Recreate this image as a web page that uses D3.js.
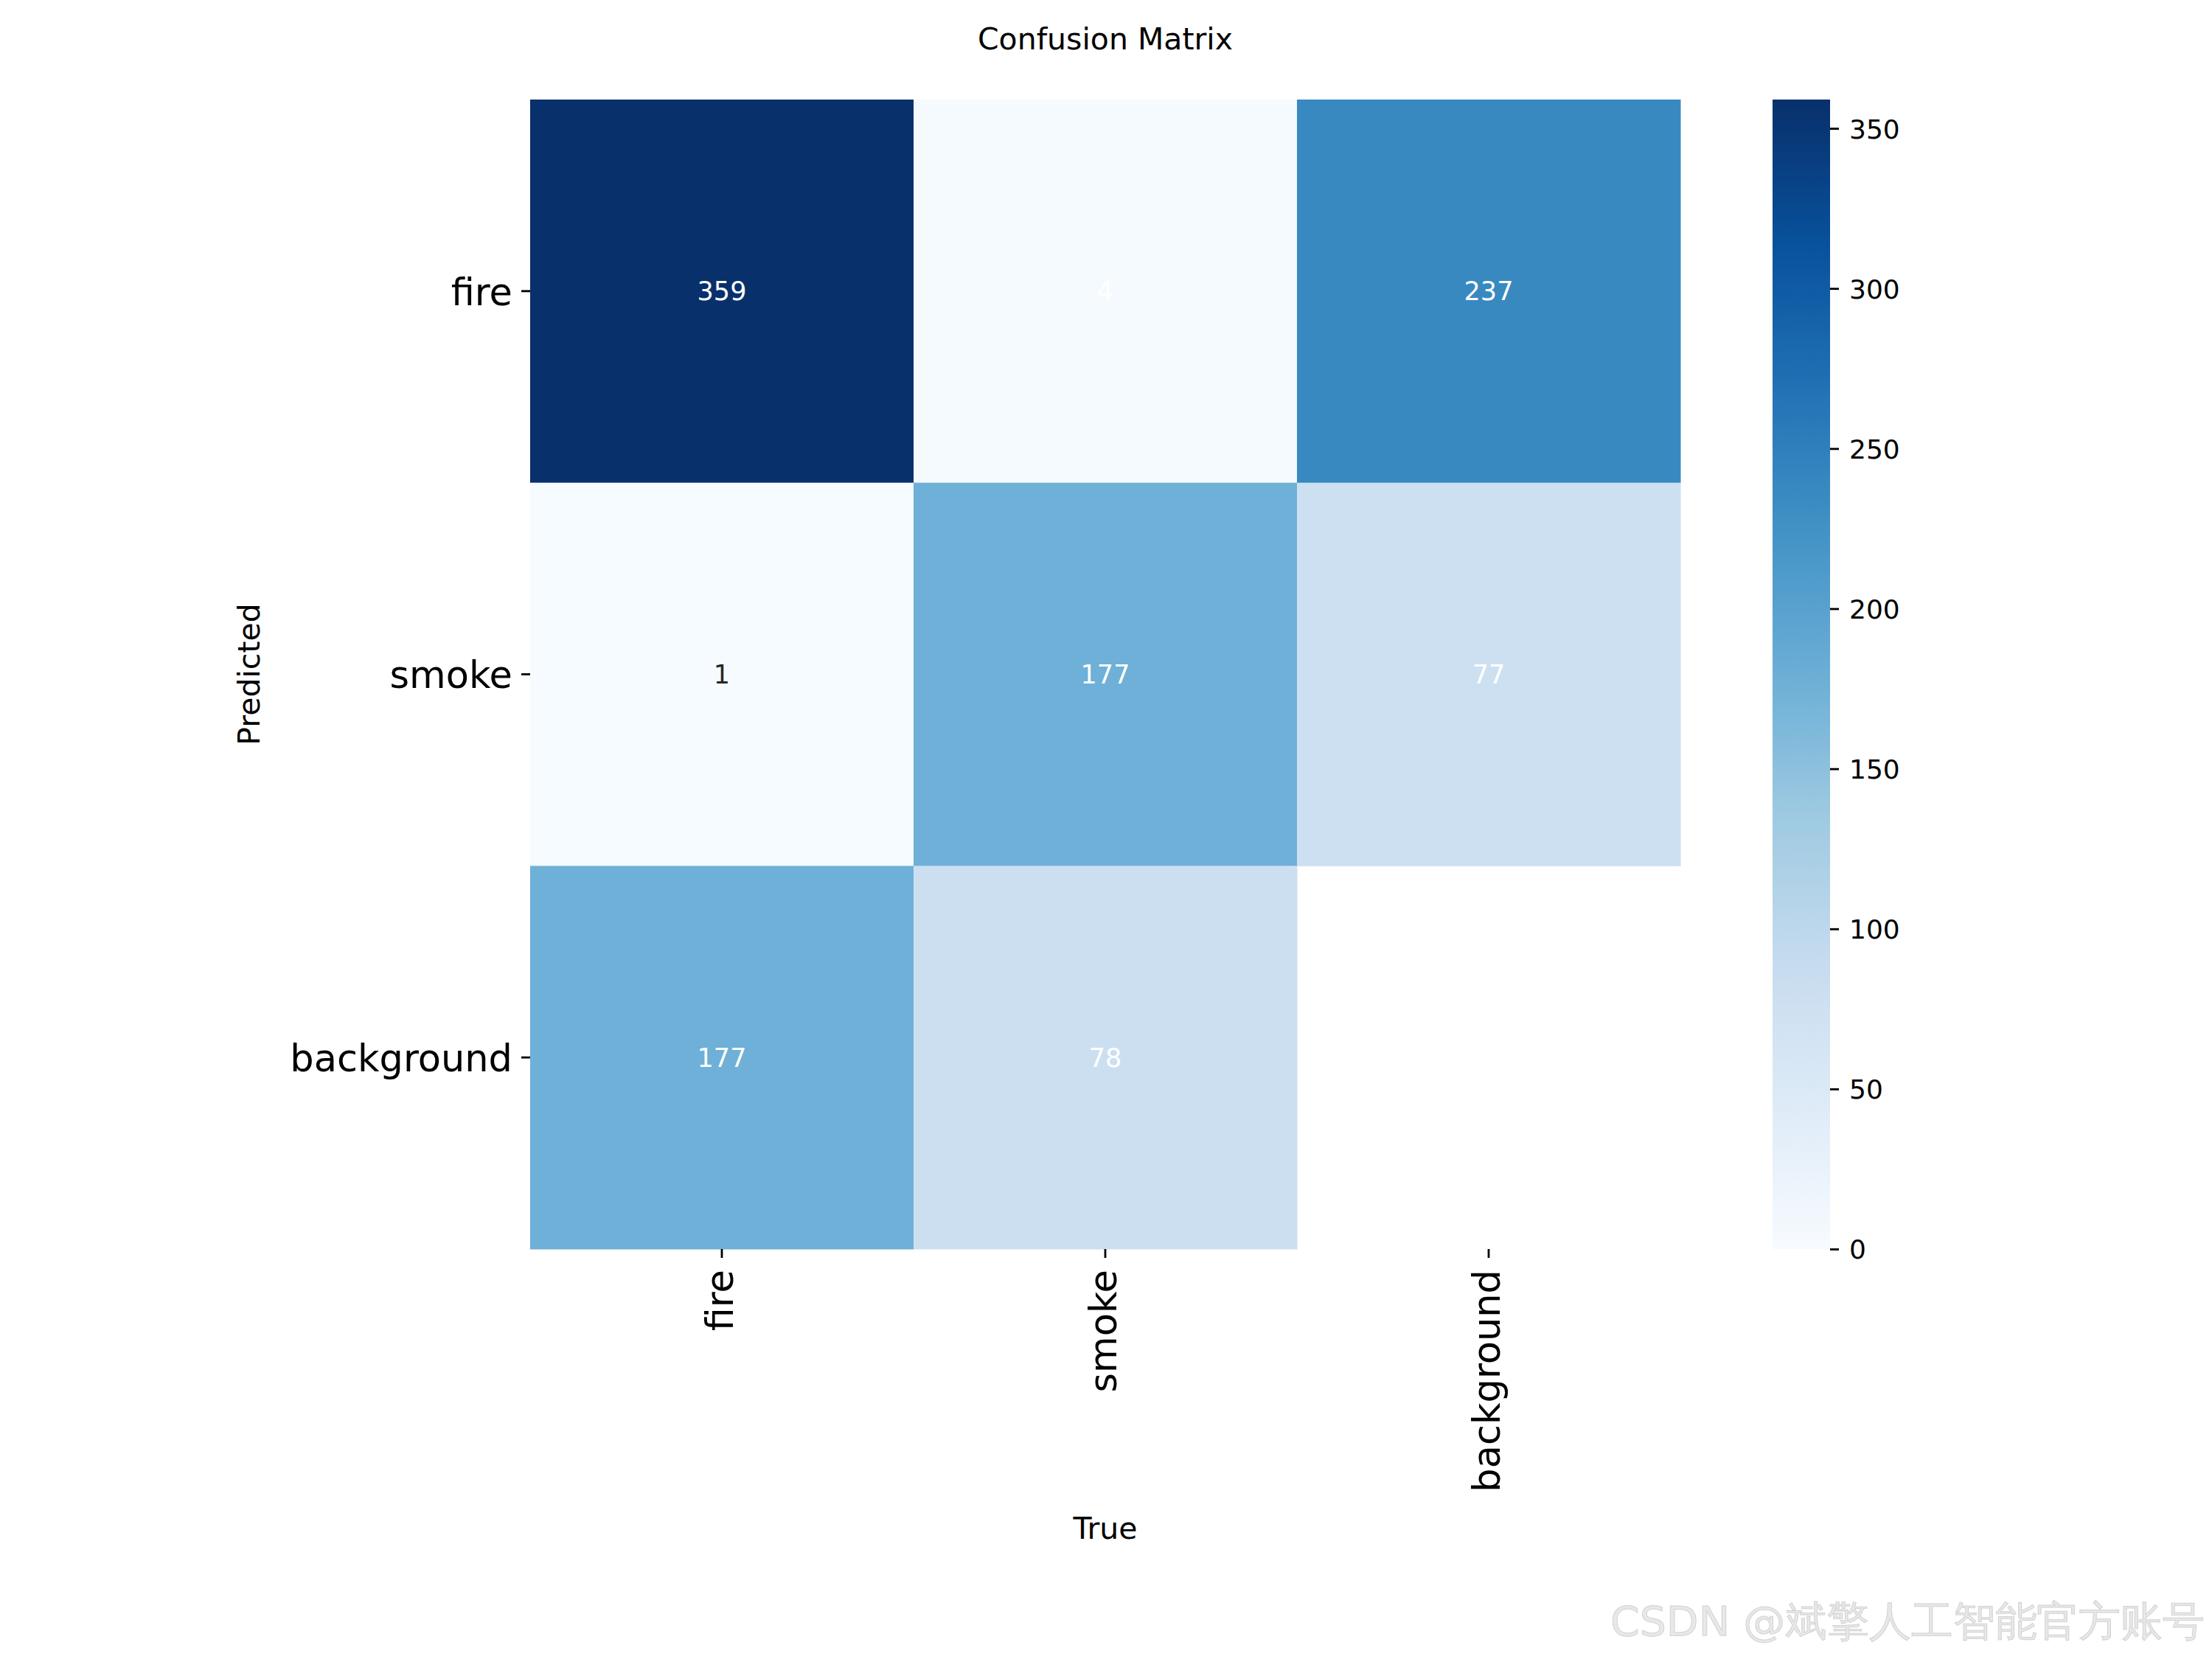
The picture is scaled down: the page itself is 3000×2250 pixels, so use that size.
<!DOCTYPE html>
<html>
<head>
<meta charset="utf-8">
<script src="https://cdn.jsdelivr.net/npm/d3@7"></script>
<style>
  body { margin: 0; background: #ffffff; }
  text { font-family: "DejaVu Sans", sans-serif; }
</style>
</head>
<body>
<div id="vis1"></div>
<script>
// data: rows are Predicted, columns are True (null = masked cell, drawn blank)
const CLASSES = ["fire", "smoke", "background"];
const ROW_FIRE = [359, 4, 237];
const ROW_SMOKE = [1, 177, 77];
const ROW_BACKGROUND = [177, 78, null];
const MATRIX = [ROW_FIRE, ROW_SMOKE, ROW_BACKGROUND];
const CBAR_TICKS = [0, 50, 100, 150, 200, 250, 300, 350];

// annotation text colours as they show up in the picture (row by row)
const ANNOT_COLORS = ["#ffffff", "#ffffff", "#ffffff",
                      "#262626", "#ffffff", "#ffffff",
                      "#ffffff", "#ffffff", "#ffffff"];

const FRAME_WIDTH = 3000;
const FRAME_HEIGHT = 2250;
const HEAT = {left: 719, right: 2279, top: 135, bottom: 1694};
const CBAR = {left: 2404, right: 2482};

// matplotlib "Blues" anchor colours, linear in rgb
const BLUES = ["#f7fbff", "#deebf7", "#c6dbef", "#9ecae1", "#6baed6",
               "#4292c6", "#2171b5", "#08519c", "#08306b"];

const FRAME1 = d3.select("#vis1")
                  .append("svg")
                  .attr("width", FRAME_WIDTH)
                  .attr("height", FRAME_HEIGHT);

function build_heatmap() {
  const cells = [];
  MATRIX.forEach((row, i) => {
    row.forEach((v, j) => {
      cells.push({row: CLASSES[i], col: CLASSES[j], value: v, idx: i * CLASSES.length + j});
    });
  });

  const VMAX = d3.max(cells, d => d.value);

  const X_Scale = d3.scaleBand().domain(CLASSES).range([HEAT.left, HEAT.right]);
  const Y_Scale = d3.scaleBand().domain(CLASSES).range([HEAT.top, HEAT.bottom]);

  const Color = d3.scaleLinear()
                  .domain(BLUES.map((c, k) => VMAX * k / (BLUES.length - 1)))
                  .range(BLUES)
                  .interpolate(d3.interpolateRgb)
                  .clamp(true);

  // cells
  FRAME1.selectAll(".cell")
        .data(cells.filter(d => d.value !== null))
        .enter().append("rect")
        .attr("class", "cell")
        .attr("x", d => X_Scale(d.col))
        .attr("y", d => Y_Scale(d.row))
        .attr("width", X_Scale.bandwidth() + 0.5)
        .attr("height", Y_Scale.bandwidth() + 0.5)
        .attr("fill", d => Color(d.value));

  // annotations
  FRAME1.selectAll(".annot")
        .data(cells.filter(d => d.value !== null))
        .enter().append("text")
        .attr("class", "annot")
        .attr("x", d => X_Scale(d.col) + X_Scale.bandwidth() / 2)
        .attr("y", d => Y_Scale(d.row) + Y_Scale.bandwidth() / 2)
        .attr("dy", "0.36em")
        .attr("text-anchor", "middle")
        .attr("font-size", 35)
        .attr("fill", d => ANNOT_COLORS[d.idx])
        .text(d => d.value);

  // y axis (Predicted)
  const yAxis = FRAME1.append("g")
        .attr("transform", "translate(" + HEAT.left + ",0)")
        .call(d3.axisLeft(Y_Scale).tickSize(12).tickPadding(12));
  yAxis.select(".domain").remove();
  yAxis.selectAll(".tick line").attr("stroke", "#000").attr("stroke-width", 2.8);
  yAxis.selectAll(".tick text")
       .attr("font-size", 51)
       .attr("font-family", "DejaVu Sans")
       .attr("fill", "#000")
       .attr("dy", "0.37em");

  // x axis (True), labels rotated
  const xAxis = FRAME1.append("g")
        .attr("transform", "translate(0," + HEAT.bottom + ")")
        .call(d3.axisBottom(X_Scale).tickSize(12).tickPadding(12));
  xAxis.select(".domain").remove();
  xAxis.selectAll(".tick line").attr("stroke", "#000").attr("stroke-width", 2.8);
  xAxis.selectAll(".tick text")
       .attr("font-size", 51)
       .attr("font-family", "DejaVu Sans")
       .attr("fill", "#000")
       .attr("transform", "rotate(-90)")
       .attr("text-anchor", "end")
       .attr("x", -28)
       .attr("y", 0)
       .attr("dy", "0.3em");

  // colorbar
  const C_Scale = d3.scaleLinear().domain([0, VMAX]).range([HEAT.bottom, HEAT.top]);

  const grad = FRAME1.append("defs").append("linearGradient")
        .attr("id", "cbar-grad")
        .attr("x1", "0").attr("y1", "1").attr("x2", "0").attr("y2", "0");
  d3.range(0, 101).forEach(k => {
    grad.append("stop")
        .attr("offset", (k / 100))
        .attr("stop-color", Color(VMAX * k / 100));
  });

  FRAME1.append("rect")
        .attr("x", CBAR.left)
        .attr("y", C_Scale(VMAX))
        .attr("width", CBAR.right - CBAR.left)
        .attr("height", C_Scale(0) - C_Scale(VMAX))
        .attr("fill", "url(#cbar-grad)");

  const cAxis = FRAME1.append("g")
        .attr("transform", "translate(" + CBAR.right + ",0)")
        .call(d3.axisRight(C_Scale).tickValues(CBAR_TICKS).tickSize(12).tickPadding(14));
  cAxis.select(".domain").remove();
  cAxis.selectAll(".tick line").attr("stroke", "#000").attr("stroke-width", 2.8);
  cAxis.selectAll(".tick text")
       .attr("font-size", 36)
       .attr("font-family", "DejaVu Sans")
       .attr("fill", "#000")
       .attr("dy", "0.36em");

  // title and axis labels
  FRAME1.append("text")
        .attr("x", (HEAT.left + HEAT.right) / 2)
        .attr("y", 67)
        .attr("text-anchor", "middle")
        .attr("font-size", 41)
        .text("Confusion Matrix");

  FRAME1.append("text")
        .attr("x", (HEAT.left + HEAT.right) / 2)
        .attr("y", 2087)
        .attr("text-anchor", "middle")
        .attr("font-size", 41)
        .text("True");

  FRAME1.append("text")
        .attr("transform", "translate(352," + ((HEAT.top + HEAT.bottom) / 2) + ") rotate(-90)")
        .attr("text-anchor", "middle")
        .attr("font-size", 41)
        .text("Predicted");

  // watermark
  FRAME1.append("text")
        .attr("x", 2990)
        .attr("y", 2218)
        .attr("text-anchor", "end")
        .attr("font-family", "Noto Sans CJK SC")
        .attr("font-size", 56)
        .attr("fill", "#e8e8e8")
        .attr("stroke", "#d2d2d2")
        .attr("stroke-width", 1)
        .attr("textLength", 806)
        .attr("lengthAdjust", "spacingAndGlyphs")
        .text("CSDN @斌擎人工智能官方账号");
}

build_heatmap();
</script>
</body>
</html>
